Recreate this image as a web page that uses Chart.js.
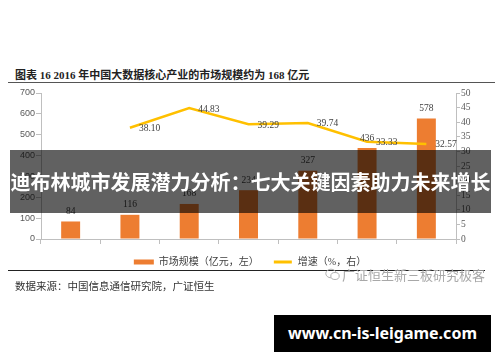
<!DOCTYPE html>
<html>
<head>
<meta charset="utf-8">
<script src="https://cdn.jsdelivr.net/npm/chart.js@4.4.0/dist/chart.umd.min.js"></script>
<style>
  body { margin: 0; width: 500px; height: 362px; background: #fff; position: relative; overflow: hidden; font-family: "Noto Sans CJK SC", sans-serif; }
  .abs { position: absolute; }
  #title { left: 15px; top: 66px; font: bold 11px "Liberation Serif", "Noto Sans CJK SC"; color: #222; white-space: nowrap; }
  #rule1 { left: 8px; top: 82px; width: 487px; border-top: 1.5px solid #555; }
  #chartBox { left: 0; top: 85px; width: 500px; height: 192px; }
  #rule2 { left: 8px; top: 270px; width: 477px; border-top: 1px solid #222; }
  #source { left: 15px; top: 278px; font: 10.5px "Liberation Serif", "Noto Sans CJK SC"; color: #333; white-space: nowrap; }
  #wm { left: 325px; top: 265px; font: 13px "Noto Sans CJK SC"; color: #a8a8a8; white-space: nowrap; display: flex; align-items: center; gap: 2px; }
  #banner { left: 10px; top: 150px; width: 481px; height: 63px; background: rgba(0,0,0,0.62); color: #fff; font: bold 20px "Noto Sans CJK SC"; line-height: 63px; text-align: center; white-space: nowrap; }
  #site { left: 274px; top: 315px; width: 217px; height: 37px; background: #000; color: #fff; font: bold 16px "Noto Sans"; line-height: 37px; text-align: center; }
</style>
</head>
<body>
<div id="title" class="abs">图表 16 2016 年中国大数据核心产业的市场规模约为 168 亿元</div>
<div id="rule1" class="abs"></div>
<div id="chartBox" class="abs"><canvas id="chart" width="500" height="192"></canvas></div>
<div id="rule2" class="abs"></div>
<div id="source" class="abs">数据来源：中国信息通信研究院，广证恒生</div>
<div id="wm" class="abs">
  <svg width="15" height="13" viewBox="0 0 15 13"><ellipse cx="6" cy="5.5" rx="5.2" ry="4.3" fill="none" stroke="#b0b0b0" stroke-width="1"/><ellipse cx="10" cy="8" rx="4.2" ry="3.5" fill="#fff" stroke="#b0b0b0" stroke-width="1"/></svg>
  <span>广证恒生新三板研究极客</span>
</div>
<div id="banner" class="abs">迪布林城市发展潜力分析：七大关键因素助力未来增长</div>
<div id="site" class="abs">www.cn-is-leigame.com</div>

<script>
const years = ['2014', '2015', '2016', '2017E', '2018E', '2019E', '2020E'];
const marketSize = [84, 116, 168, 234, 327, 436, 578];
const growthRate = [null, 38.10, 44.83, 39.29, 39.74, 33.33, 32.57];
const leftTicks = [0, 700, 100];
const rightTicks = [0, 50, 5];

const axisColor = '#bfbfbf';
const tickColor = '#595959';

const valueLabels = {
  id: 'valueLabels',
  afterDatasetsDraw(chart) {
    const ctx = chart.ctx;
    ctx.save();
    ctx.font = '9.5px "Liberation Serif"';
    ctx.fillStyle = '#404040';
    ctx.textBaseline = 'middle';
    ctx.textAlign = 'center';
    chart.getDatasetMeta(0).data.forEach((bar, i) => {
      ctx.fillText(marketSize[i], bar.x, bar.y - 10);
    });
    ctx.textAlign = 'left';
    chart.getDatasetMeta(1).data.forEach((pt, i) => {
      if (growthRate[i] == null) return;
      ctx.fillText(growthRate[i].toFixed(2), pt.x + 9, pt.y + 1);
    });
    ctx.restore();
  }
};

new Chart(document.getElementById('chart').getContext('2d'), {
  type: 'bar',
  data: {
    labels: years,
    datasets: [{
      label: '市场规模（亿元，左）',
      data: marketSize,
      backgroundColor: '#ED7D31',
      yAxisID: 'y',
      barPercentage: 0.4,
      categoryPercentage: 0.8,
      order: 1
    }, {
      type: 'line',
      label: '增速（%，右）',
      data: growthRate,
      borderColor: '#FFC000',
      backgroundColor: '#FFC000',
      borderWidth: 2.5,
      pointRadius: 0,
      tension: 0,
      yAxisID: 'y1',
      order: 0
    }]
  },
  options: {
    responsive: false,
    animation: false,
    layout: { padding: { top: 8, left: 0, right: 0, bottom: 0 } },
    plugins: {
      tooltip: { enabled: false },
      legend: {
        position: 'bottom',
        labels: {
          boxWidth: 20,
          boxHeight: 5,
          padding: 14,
          color: '#404040',
          font: { family: '"Liberation Serif", "Noto Sans CJK SC"', size: 10 },
          sort: (a, b) => a.datasetIndex - b.datasetIndex,
          generateLabels: (chart) => {
            const items = Chart.defaults.plugins.legend.labels.generateLabels(chart);
            items.forEach(it => {
              if (it.datasetIndex === 1) { it.strokeStyle = '#fff'; it.lineWidth = 2; }
              else { it.lineWidth = 0; }
            });
            return items;
          }
        }
      }
    },
    scales: {
      x: {
        offset: true,
        grid: { display: true, drawOnChartArea: false, offset: true, tickLength: 5, color: axisColor },
        border: { color: axisColor },
        ticks: { color: tickColor, padding: 2, font: { family: 'Liberation Serif', size: 9.5 } },
        afterFit: (s) => { s.height = 4; }
      },
      y: {
        position: 'left',
        min: leftTicks[0], max: leftTicks[1],
        grid: { display: true, drawOnChartArea: false, tickLength: 5, color: axisColor },
        border: { color: axisColor },
        ticks: { stepSize: leftTicks[2], color: tickColor, padding: 1, font: { family: 'Liberation Sans', size: 9 } },
        afterFit: (s) => { s.width = 41; }
      },
      y1: {
        position: 'right',
        min: rightTicks[0], max: rightTicks[1],
        grid: { display: true, drawOnChartArea: false, tickLength: 4, color: axisColor },
        border: { color: axisColor },
        ticks: { stepSize: rightTicks[2], color: tickColor, padding: 1, font: { family: 'Liberation Serif', size: 9.5 } },
        afterFit: (s) => { s.width = 44; }
      }
    }
  },
  plugins: [valueLabels]
});
</script>
</body>
</html>
